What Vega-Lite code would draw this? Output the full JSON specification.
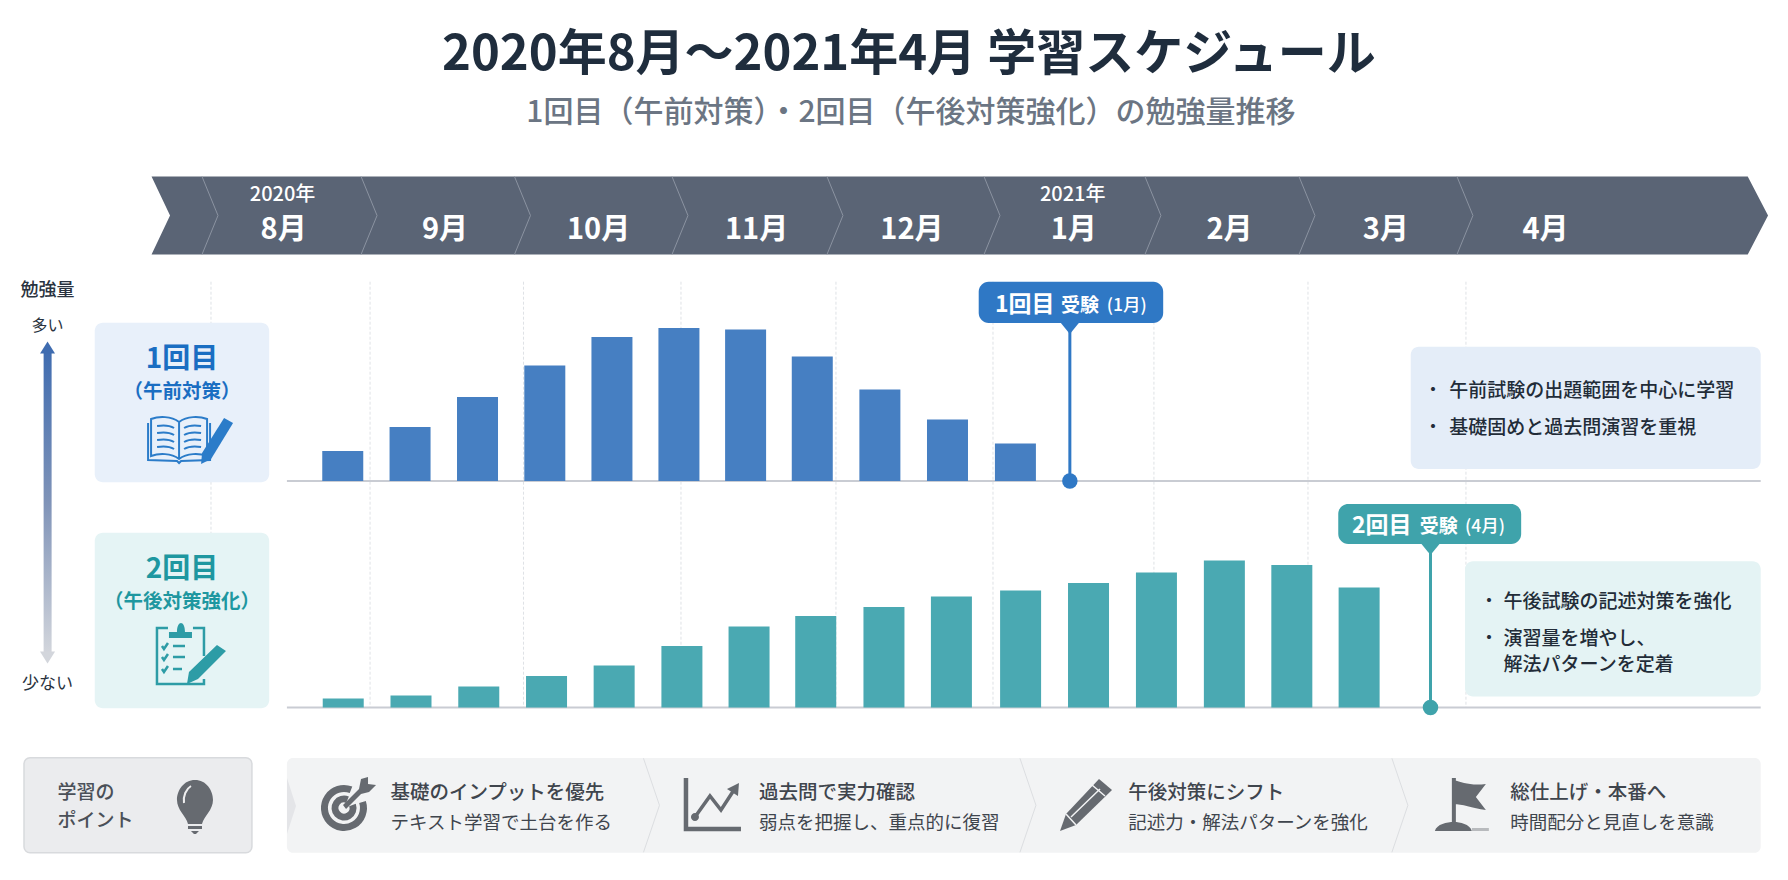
{
"$schema":"https://vega.github.io/schema/vega-lite/v6.json",
"description":"2020年8月〜2021年4月 学習スケジュール",
"width":1788,"height":880,
"autosize":"none",
"padding":0,
"background":"#ffffff",
"config":{"view":{"stroke":null},"axis":{"disable":true},"text":{"font":"Noto Sans CJK JP","baseline":"middle"}},
"datasets":{
"months":[
{"month":"8月","start":0,"center":0.463},
{"month":"9月","start":1.014,"center":1.492},
{"month":"10月","start":1.992,"center":2.471},
{"month":"11月","start":2.996,"center":3.478},
{"month":"12月","start":3.984,"center":4.468},
{"month":"1月","start":4.985,"center":5.5},
{"month":"2月","start":6.011,"center":6.493},
{"month":"3月","start":6.993,"center":7.489},
{"month":"4月","start":8,"center":8.507}
],
"years":[{"year":"2020年","center":0.456},{"year":"2021年","center":5.493}],
"study":[
{"round":"1回目","month":0.84,"amount":20},
{"round":"1回目","month":1.269,"amount":36},
{"round":"1回目","month":1.699,"amount":56},
{"round":"1回目","month":2.128,"amount":77},
{"round":"1回目","month":2.556,"amount":96},
{"round":"1回目","month":2.983,"amount":102},
{"round":"1回目","month":3.408,"amount":101},
{"round":"1回目","month":3.833,"amount":83},
{"round":"1回目","month":4.264,"amount":61},
{"round":"1回目","month":4.695,"amount":41},
{"round":"1回目","month":5.128,"amount":25},
{"round":"2回目","month":0.843,"amount":6},
{"round":"2回目","month":1.275,"amount":8},
{"round":"2回目","month":1.707,"amount":14},
{"round":"2回目","month":2.139,"amount":21},
{"round":"2回目","month":2.57,"amount":28},
{"round":"2回目","month":3.002,"amount":41},
{"round":"2回目","month":3.43,"amount":54},
{"round":"2回目","month":3.855,"amount":61},
{"round":"2回目","month":4.29,"amount":67},
{"round":"2回目","month":4.72,"amount":74},
{"round":"2回目","month":5.161,"amount":78},
{"round":"2回目","month":5.594,"amount":83},
{"round":"2回目","month":6.027,"amount":90},
{"round":"2回目","month":6.46,"amount":98},
{"round":"2回目","month":6.89,"amount":95},
{"round":"2回目","month":7.319,"amount":80}
]},
"resolve":{"scale":{"y":"independent"}},
"layer":[
{"data":{"values":[{"part":"layout"}]},
"layer":[
{"data":{"name":"months"},"mark":{"type":"rule","color":"#dfe2e6","strokeWidth":1,"strokeDash":[3,2]},
"encoding":{"x":{"field":"start","type":"quantitative","scale":{"domain":[-1.345,10.053],"zero":false,"nice":false,"padding":0}},"y":{"datum":28.17,"scale":{"domain":[0,88],"range":[0,880],"nice":false,"zero":false}},"y2":{"datum":70.7}}},
{"mark":{"type":"text","text":"2020年8月〜2021年4月 学習スケジュール","fontSize":49,"fontWeight":700,"color":"#1f2d3d","align":"center"},"encoding":{"x":{"datum":4.449},"y":{"datum":5.45}}},
{"mark":{"type":"text","text":"1回目（午前対策）・2回目（午後対策強化）の勉強量推移","fontSize":30,"fontWeight":500,"color":"#6b7583","align":"center"},"encoding":{"x":{"datum":4.462},"y":{"datum":11.25}}},
{"mark":{"type":"point","shape":"M-808.5,-39L787.7,-39L808,0L787.7,39L-808.5,39L-790,0Z","size":4,"filled":true,"fill":"#5a6475","opacity":1,"stroke":null},"encoding":{"x":{"datum":4.775},"y":{"datum":21.55}}},
{"data":{"name":"months"},"mark":{"type":"point","shape":"M-9,-39L7,0L-9,39","size":4,"filled":false,"stroke":"#8b93a1","strokeWidth":1,"opacity":1},"encoding":{"x":{"field":"start","type":"quantitative"},"y":{"datum":21.55}}},
{"data":{"name":"months"},"mark":{"type":"text","fontSize":29,"fontWeight":700,"color":"#ffffff","align":"center"},"encoding":{"x":{"field":"center","type":"quantitative"},"y":{"datum":22.95},"text":{"field":"month"}}},
{"data":{"name":"years"},"mark":{"type":"text","fontSize":20,"fontWeight":500,"color":"#ffffff","align":"center"},"encoding":{"x":{"field":"center","type":"quantitative"},"y":{"datum":19.5},"text":{"field":"year"}}},

{"mark":{"type":"text","text":"勉強量","fontSize":18,"fontWeight":500,"color":"#2a3340","align":"center"},"encoding":{"x":{"datum":-1.042},"y":{"datum":29.05}}},
{"mark":{"type":"text","text":"多い","fontSize":16,"color":"#2a3340","align":"center"},"encoding":{"x":{"datum":-1.042},"y":{"datum":32.6}}},
{"mark":{"type":"text","text":"少ない","fontSize":17,"color":"#2a3340","align":"center"},"encoding":{"x":{"datum":-1.042},"y":{"datum":68.4}}},
{"mark":{"type":"rect","fill":{"gradient":"linear","x1":0,"y1":0,"x2":0,"y2":1,"stops":[{"offset":0,"color":"#3f6cb0"},{"offset":0.5,"color":"#7f93b8"},{"offset":1,"color":"#d3d6dc"}]}},"encoding":{"x":{"datum":-1.067},"x2":{"datum":-1.016},"y":{"datum":35.0},"y2":{"datum":65.4}}},
{"mark":{"type":"point","shape":"M-7.5,6L0,-6L7.5,6Z","size":4,"filled":true,"fill":"#3f6cb0","opacity":1,"stroke":null},"encoding":{"x":{"datum":-1.042},"y":{"datum":34.75}}},
{"mark":{"type":"point","shape":"M-7.5,-6L0,6L7.5,-6Z","size":4,"filled":true,"fill":"#d3d6dc","opacity":1,"stroke":null},"encoding":{"x":{"datum":-1.042},"y":{"datum":65.75}}},

{"mark":{"type":"rect","fill":"#e8f0fa","cornerRadius":8},"encoding":{"x":{"datum":-0.741},"x2":{"datum":0.371},"y":{"datum":32.27},"y2":{"datum":48.23}}},
{"mark":{"type":"text","text":"1回目","fontSize":28,"fontWeight":700,"color":"#1a6ec2","align":"center"},"encoding":{"x":{"datum":-0.185},"y":{"datum":35.95}}},
{"mark":{"type":"text","text":"（午前対策）","fontSize":19.5,"fontWeight":700,"color":"#1a6ec2","align":"center"},"encoding":{"x":{"datum":-0.185},"y":{"datum":39.15}}},
{"mark":{"type":"point","shape":"M-12,-17C-20,-23 -32,-23 -40,-20L-40,17C-32,14 -20,14 -12,20C-4,14 8,14 16,17L16,-20C8,-23 -4,-23 -12,-17ZM-12,-17L-12,20M-43,-16L-43,21L-14,22L-12,24L-10,22L19,21L19,-16M-34,-13C-28,-14 -22,-14 -17,-11M-34,-6C-28,-7 -22,-7 -17,-4M-34,1C-28,0 -22,0 -17,3M-34,8C-28,7 -22,7 -17,10M10,-13C4,-14 -2,-14 -7,-11M10,-6C4,-7 -2,-7 -7,-4M10,1C4,0 -2,0 -7,3M10,8C4,7 -2,7 -7,10","size":4,"filled":false,"stroke":"#2b7cc9","strokeWidth":2,"opacity":1},"encoding":{"x":{"datum":-0.127},"y":{"datum":43.9}}},
{"mark":{"type":"point","shape":"M33,-21L42,-16L20,20L10,25L11,14Z","size":4,"filled":true,"fill":"#2b7cc9","opacity":1,"stroke":null},"encoding":{"x":{"datum":-0.127},"y":{"datum":43.9}}},

{"mark":{"type":"rect","fill":"#e5f4f5","cornerRadius":8},"encoding":{"x":{"datum":-0.741},"x2":{"datum":0.371},"y":{"datum":53.27},"y2":{"datum":70.83}}},
{"mark":{"type":"text","text":"2回目","fontSize":28,"fontWeight":700,"color":"#1e97a0","align":"center"},"encoding":{"x":{"datum":-0.185},"y":{"datum":56.97}}},
{"mark":{"type":"text","text":"（午後対策強化）","fontSize":19.5,"fontWeight":700,"color":"#1e97a0","align":"center"},"encoding":{"x":{"datum":-0.185},"y":{"datum":60.15}}},
{"mark":{"type":"point","shape":"M-22,-25L-33,-25L-33,31L14,31L14,26M14,3L14,-25L3,-25M-17,-7L-5,-7M-17,4L-5,4M-17,16L-8,16M-28,-7L-26,-4L-22,-10M-28,4L-26,7L-22,1M-28,16L-26,19L-22,13","size":4,"filled":false,"stroke":"#2d9ca6","strokeWidth":2.5,"opacity":1},"encoding":{"x":{"datum":-0.134},"y":{"datum":65.3}}},
{"mark":{"type":"point","shape":"M-21,-21L-13,-21C-13,-33 -5,-33 -5,-21L2,-21L2,-15L-21,-15ZM27,-8L36,-2L8,26L-3,31L-1,19Z","size":4,"filled":true,"fill":"#2d9ca6","opacity":1,"stroke":null},"encoding":{"x":{"datum":-0.134},"y":{"datum":65.3}}},

{"mark":{"type":"rule","color":"#c9ccd3","strokeWidth":2},"encoding":{"x":{"datum":0.484},"x2":{"datum":9.879},"y":{"datum":48.1}}},
{"mark":{"type":"rule","color":"#c9ccd3","strokeWidth":2},"encoding":{"x":{"datum":0.484},"x2":{"datum":9.879},"y":{"datum":70.75}}},

{"mark":{"type":"rect","fill":"#e4edf8","cornerRadius":8},"encoding":{"x":{"datum":7.648},"x2":{"datum":9.879},"y":{"datum":34.67},"y2":{"datum":46.9}}},
{"mark":{"type":"text","text":"・","fontSize":19,"color":"#222c38","align":"center"},"encoding":{"x":{"datum":7.79},"y":{"datum":39.08}}},
{"mark":{"type":"text","text":"午前試験の出題範囲を中心に学習","fontSize":19,"fontWeight":500,"color":"#222c38","align":"left"},"encoding":{"x":{"datum":7.894},"y":{"datum":39.08}}},
{"mark":{"type":"text","text":"・","fontSize":19,"color":"#222c38","align":"center"},"encoding":{"x":{"datum":7.79},"y":{"datum":42.82}}},
{"mark":{"type":"text","text":"基礎固めと過去問演習を重視","fontSize":19,"fontWeight":500,"color":"#222c38","align":"left"},"encoding":{"x":{"datum":7.894},"y":{"datum":42.82}}},

{"mark":{"type":"rect","fill":"#e4f3f4","cornerRadius":8},"encoding":{"x":{"datum":7.994},"x2":{"datum":9.879},"y":{"datum":56.13},"y2":{"datum":69.65}}},
{"mark":{"type":"text","text":"・","fontSize":19,"color":"#222c38","align":"center"},"encoding":{"x":{"datum":8.147},"y":{"datum":60.15}}},
{"mark":{"type":"text","text":"午後試験の記述対策を強化","fontSize":19,"fontWeight":500,"color":"#222c38","align":"left"},"encoding":{"x":{"datum":8.24},"y":{"datum":60.15}}},
{"mark":{"type":"text","text":"・","fontSize":19,"color":"#222c38","align":"center"},"encoding":{"x":{"datum":8.147},"y":{"datum":63.88}}},
{"mark":{"type":"text","text":"演習量を増やし、","fontSize":19,"fontWeight":500,"color":"#222c38","align":"left"},"encoding":{"x":{"datum":8.24},"y":{"datum":63.88}}},
{"mark":{"type":"text","text":"解法パターンを定着","fontSize":19,"fontWeight":500,"color":"#222c38","align":"left"},"encoding":{"x":{"datum":8.24},"y":{"datum":66.48}}},

{"mark":{"type":"rule","color":"#2f78c5","strokeWidth":3},"encoding":{"x":{"datum":5.475},"y":{"datum":32.3},"y2":{"datum":48.1}}},
{"mark":{"type":"point","shape":"circle","size":240,"filled":true,"fill":"#2f78c5","opacity":1,"stroke":null},"encoding":{"x":{"datum":5.475},"y":{"datum":48.1}}},
{"mark":{"type":"point","shape":"M-9,0L9,0L0,11Z","size":4,"filled":true,"fill":"#2f78c5","opacity":1,"stroke":null},"encoding":{"x":{"datum":5.475},"y":{"datum":32.3}}},
{"mark":{"type":"rect","fill":"#2f78c5","cornerRadius":10},"encoding":{"x":{"datum":4.894},"x2":{"datum":6.07},"y":{"datum":28.17},"y2":{"datum":32.3}}},
{"mark":{"type":"text","text":"1回目","fontSize":23,"fontWeight":700,"color":"#ffffff","align":"left"},"encoding":{"x":{"datum":4.998},"y":{"datum":30.5}}},
{"mark":{"type":"text","text":"受験","fontSize":19,"fontWeight":700,"color":"#ffffff","align":"left"},"encoding":{"x":{"datum":5.418},"y":{"datum":30.55}}},
{"mark":{"type":"text","text":"(1月)","fontSize":17.5,"fontWeight":500,"color":"#ffffff","align":"left"},"encoding":{"x":{"datum":5.71},"y":{"datum":30.6}}},

{"mark":{"type":"rule","color":"#3fa3ab","strokeWidth":3},"encoding":{"x":{"datum":7.774},"y":{"datum":54.4},"y2":{"datum":70.75}}},
{"mark":{"type":"point","shape":"circle","size":240,"filled":true,"fill":"#3fa3ab","opacity":1,"stroke":null},"encoding":{"x":{"datum":7.774},"y":{"datum":70.75}}},
{"mark":{"type":"point","shape":"M-9,0L9,0L0,11Z","size":4,"filled":true,"fill":"#3fa3ab","opacity":1,"stroke":null},"encoding":{"x":{"datum":7.774},"y":{"datum":54.4}}},
{"mark":{"type":"rect","fill":"#3fa3ab","cornerRadius":10},"encoding":{"x":{"datum":7.186},"x2":{"datum":8.352},"y":{"datum":50.4},"y2":{"datum":54.4}}},
{"mark":{"type":"text","text":"2回目","fontSize":23,"fontWeight":700,"color":"#ffffff","align":"left"},"encoding":{"x":{"datum":7.273},"y":{"datum":52.6}}},
{"mark":{"type":"text","text":"受験","fontSize":19,"fontWeight":700,"color":"#ffffff","align":"left"},"encoding":{"x":{"datum":7.706},"y":{"datum":52.65}}},
{"mark":{"type":"text","text":"(4月)","fontSize":17.5,"fontWeight":500,"color":"#ffffff","align":"left"},"encoding":{"x":{"datum":7.994},"y":{"datum":52.7}}},

{"mark":{"type":"rect","fill":"#ebecee","stroke":"#d8dadd","strokeWidth":1.5,"cornerRadius":6},"encoding":{"x":{"datum":-1.192},"x2":{"datum":0.261},"y":{"datum":75.77},"y2":{"datum":85.27}}},
{"mark":{"type":"text","text":"学習の","fontSize":19,"fontWeight":500,"color":"#4a5058","align":"left"},"encoding":{"x":{"datum":-0.979},"y":{"datum":79.3}}},
{"mark":{"type":"text","text":"ポイント","fontSize":19,"fontWeight":500,"color":"#4a5058","align":"left"},"encoding":{"x":{"datum":-0.979},"y":{"datum":82.05}}},
{"mark":{"type":"point","shape":"M0,-26C11,-26 18,-16 18,-6C18,4 9,10 7,18L-7,18C-9,10 -18,4 -18,-6C-18,-16 -11,-26 0,-26ZM-7,20L7,20L7,23L-7,23ZM-4,25L4,25L1,28L-1,28Z","size":4,"filled":true,"fill":"#666a70","opacity":1,"stroke":null},"encoding":{"x":{"datum":-0.102},"y":{"datum":80.6}}},
{"mark":{"type":"point","shape":"M-11,-3C-12,-10 -9,-17 -4,-20","size":4,"filled":false,"stroke":"#eeeeef","strokeWidth":2,"opacity":1},"encoding":{"x":{"datum":-0.102},"y":{"datum":80.6}}},

{"mark":{"type":"rect","fill":"#f2f3f4","cornerRadius":6},"encoding":{"x":{"datum":0.484},"x2":{"datum":9.879},"y":{"datum":75.8},"y2":{"datum":85.27}}},
{"mark":{"type":"point","shape":"M-4,-28L5,0L-4,28Z","size":4,"filled":true,"fill":"#e4e5e8","opacity":1,"stroke":null},"encoding":{"x":{"datum":0.51},"y":{"datum":80.6}}},
{"data":{"values":[{"pos":2.808},{"pos":5.208},{"pos":7.579}]},"mark":{"type":"point","shape":"M-8,-47L8,0L-8,47","size":4,"filled":false,"stroke":"#dcdee1","strokeWidth":1,"opacity":1},"encoding":{"x":{"field":"pos","type":"quantitative"},"y":{"datum":80.53}}},

{"mark":{"type":"text","text":"基礎のインプットを優先","fontSize":19.5,"fontWeight":500,"color":"#3f454d","align":"left"},"encoding":{"x":{"datum":1.144},"y":{"datum":79.3}}},
{"mark":{"type":"text","text":"テキスト学習で土台を作る","fontSize":18.5,"color":"#3f454d","align":"left"},"encoding":{"x":{"datum":1.144},"y":{"datum":82.3}}},
{"mark":{"type":"text","text":"過去問で実力確認","fontSize":19.5,"fontWeight":500,"color":"#3f454d","align":"left"},"encoding":{"x":{"datum":3.493},"y":{"datum":79.3}}},
{"mark":{"type":"text","text":"弱点を把握し、重点的に復習","fontSize":18.5,"color":"#3f454d","align":"left"},"encoding":{"x":{"datum":3.493},"y":{"datum":82.3}}},
{"mark":{"type":"text","text":"午後対策にシフト","fontSize":19.5,"fontWeight":500,"color":"#3f454d","align":"left"},"encoding":{"x":{"datum":5.847},"y":{"datum":79.3}}},
{"mark":{"type":"text","text":"記述力・解法パターンを強化","fontSize":18.5,"color":"#3f454d","align":"left"},"encoding":{"x":{"datum":5.847},"y":{"datum":82.3}}},
{"mark":{"type":"text","text":"総仕上げ・本番へ","fontSize":19.5,"fontWeight":500,"color":"#3f454d","align":"left"},"encoding":{"x":{"datum":8.283},"y":{"datum":79.3}}},
{"mark":{"type":"text","text":"時間配分と見直しを意識","fontSize":18.5,"color":"#3f454d","align":"left"},"encoding":{"x":{"datum":8.283},"y":{"datum":82.3}}},

{"mark":{"type":"point","shape":"M7,-18.2A19.5,19.5 0 1 0 18.5,-6M3.5,-8.3A9,9 0 1 0 8.5,-3","size":4,"filled":false,"stroke":"#666a70","strokeWidth":7,"opacity":1},"encoding":{"x":{"datum":0.848},"y":{"datum":80.8}}},
{"mark":{"type":"point","shape":"M-1,-3L15,-19L17,-29L24,-31L24,-24L32,-23L25,-16L17,-14L2,1Z","size":4,"filled":true,"fill":"#666a70","opacity":1,"stroke":null},"encoding":{"x":{"datum":0.848},"y":{"datum":80.8}}},
{"mark":{"type":"point","shape":"M-27,-26L-27,25L28,25","size":4,"filled":false,"stroke":"#666a70","strokeWidth":4.5,"opacity":1},"encoding":{"x":{"datum":3.2},"y":{"datum":80.4}}},
{"mark":{"type":"point","shape":"M-18,13L-3,-8L8,6L21,-14","size":4,"filled":false,"stroke":"#666a70","strokeWidth":3.5,"opacity":1},"encoding":{"x":{"datum":3.2},"y":{"datum":80.4}}},
{"mark":{"type":"point","shape":"M14,-15L26,-21L25,-8ZM-22,13A4,4 0 1 0 -14,13A4,4 0 1 0 -22,13Z","size":4,"filled":true,"fill":"#666a70","opacity":1,"stroke":null},"encoding":{"x":{"datum":3.2},"y":{"datum":80.4}}},
{"mark":{"type":"point","shape":"M13,-26L26,-15L-10,20L-26,26L-20,9Z","size":4,"filled":true,"fill":"#666a70","opacity":1,"stroke":null},"encoding":{"x":{"datum":5.578},"y":{"datum":80.5}}},
{"mark":{"type":"point","shape":"M-15,12L14,-16M-20,9L-10,20M6,-20L19,-9","size":4,"filled":false,"stroke":"#f2f3f4","strokeWidth":1.5,"opacity":1},"encoding":{"x":{"datum":5.578},"y":{"datum":80.5}}},
{"mark":{"type":"point","shape":"M-8,-24C0,-22 8,-18 24,-20L14,-7L24,6C10,4 0,0 -8,0ZM-10,-26L-6,-26L-6,20L-10,20ZM-27,27C-25,20 -15,18 -8,18C-2,18 8,20 10,27Z","size":4,"filled":true,"fill":"#666a70","opacity":1,"stroke":null},"encoding":{"x":{"datum":7.974},"y":{"datum":80.4}}},
{"mark":{"type":"point","shape":"M10,24L27,24L27,27L10,27Z","size":4,"filled":true,"fill":"#b8babd","opacity":1,"stroke":null},"encoding":{"x":{"datum":7.974},"y":{"datum":80.4}}}
]},
{"data":{"name":"study"},"transform":[{"filter":"datum.round === '1回目'"}],"mark":{"type":"bar","width":41,"color":"#467fc2"},"encoding":{"x":{"field":"month","type":"quantitative"},"y":{"field":"amount","type":"quantitative","stack":null,"scale":{"domain":[0,100],"range":[481,331],"nice":false}}}},
{"data":{"name":"study"},"transform":[{"filter":"datum.round === '2回目'"}],"mark":{"type":"bar","width":41,"color":"#4aa9b2"},"encoding":{"x":{"field":"month","type":"quantitative"},"y":{"field":"amount","type":"quantitative","stack":null,"scale":{"domain":[0,100],"range":[707.5,557.5],"nice":false}}}}
]
}
